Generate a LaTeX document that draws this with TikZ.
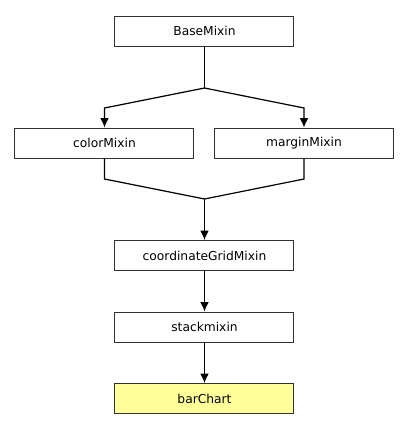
\documentclass[tikz,border=0pt]{standalone}
\usepackage{fontspec}
\setmainfont{DejaVu Sans}
\usetikzlibrary{arrows.meta}
\definecolor{chartyellow}{RGB}{255,255,153}
\tikzset{every picture/.style={line width=0.9pt}}
\tikzset{
  mixinbox/.style={draw={rgb,255:red,50;green,50;blue,50}, line width=0.75pt, fill=white, minimum width=134.25pt, minimum height=22.5pt, inner sep=0pt, font=\fontsize{9.2}{10}\selectfont},
  inherit/.style={-{Latex[length=7pt,width=6.5pt]}},
}
\begin{document}
\begin{tikzpicture}[x=0.75pt,y=0.75pt,yscale=-1,xscale=1]
\useasboundingbox (0,0) rectangle (410,430);

% Boxes
\node [mixinbox] (base) at (204.5,31) {BaseMixin};
\node [mixinbox] (color) at (104.5,143) {colorMixin};
\node [mixinbox] (margin) at (304,143) {marginMixin};
\node [mixinbox] (grid) at (204.5,255.5) {coordinateGridMixin};
\node [mixinbox] (stack) at (204.5,327) {stackmixin};
\node [mixinbox, fill=chartyellow] (bar) at (204.5,398.5) {barChart};

% Junction points
\coordinate (split) at (204.5,88);
\coordinate (join) at (204.5,199);

% BaseMixin to its children
\draw (base.south) -- (split);
\draw [inherit] (split) -- (104.5,108) -- (color.north);
\draw [inherit] (split) -- (304,108) -- (margin.north);

% children to coordinateGridMixin
\draw (color.south) -- (104.5,179) -- (join);
\draw (margin.south) -- (304,179) -- (join);
\draw [inherit] (join) -- (grid.north);

% chain
\draw [inherit] (grid.south) -- (stack.north);
\draw [inherit] (stack.south) -- (bar.north);

\end{tikzpicture}
\end{document}
